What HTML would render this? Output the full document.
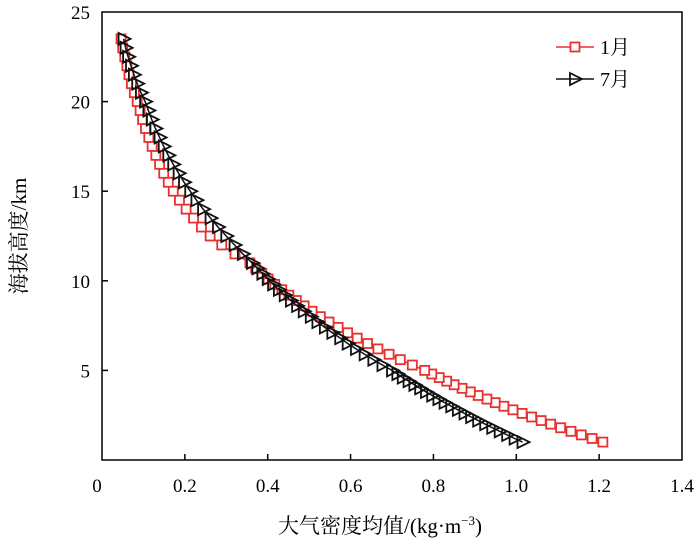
<!DOCTYPE html>
<html><head><meta charset="utf-8"><style>
html,body{margin:0;padding:0;background:#fff;}
svg{display:block;font-family:"Liberation Serif","Noto Serif CJK SC","Noto Sans CJK SC",serif;}
</style></head><body>
<svg id="chart" width="700" height="553" viewBox="0 0 700 553">
<g id="axes"></g>
<g id="series"></g>
<g id="legend"></g>
<text x="380" y="533" font-size="21" text-anchor="middle">大气密度均值/(kg·m<tspan font-size="13" dy="-8">−3</tspan><tspan dy="8">)</tspan></text>
<text transform="translate(26,236) rotate(-90)" font-size="21" text-anchor="middle">海拔高度/km</text>
</svg>
<script>
const heights=[1.0,1.2,1.4,1.6,1.8,2.0,2.2,2.4,2.6,2.8,3.0,3.2,3.4,3.6,3.8,4.0,4.2,4.4,4.6,4.8,5.0,
5.3,5.6,5.9,6.2,6.5,6.8,7.1,7.4,7.7,8.0,8.3,8.6,8.9,9.2,9.5,9.8,10.1,10.4,10.7,11.0,
11.5,12,12.5,13,13.5,14,14.5,15,15.5,16,16.5,17,17.5,18,18.5,19,19.5,20,20.5,21,21.5,22,22.5,23,23.5];
const janValues=[1.209,1.183,1.157,1.132,1.107,1.083,1.060,1.037,1.014,0.992,0.970,0.949,0.929,0.908,0.889,0.869,0.850,0.832,0.814,0.796,0.779,
0.749,0.720,0.693,0.666,0.641,0.616,0.593,0.570,0.548,0.527,0.507,0.488,0.469,0.451,0.434,0.417,0.401,0.386,0.371,0.357,
0.321,0.289,0.261,0.240,0.221,0.203,0.187,0.172,0.160,0.149,0.139,0.130,0.121,0.113,0.105,0.098,0.092,0.085,0.078,0.071,0.065,0.060,0.055,0.050,0.046];
const julValues=[1.015,0.996,0.978,0.960,0.942,0.925,0.908,0.891,0.875,0.859,0.843,0.827,0.812,0.797,0.782,0.768,0.754,0.740,0.726,0.713,0.700,
0.677,0.655,0.634,0.613,0.593,0.575,0.556,0.538,0.520,0.504,0.487,0.471,0.456,0.441,0.427,0.413,0.400,0.387,0.375,0.362,
0.340,0.320,0.300,0.280,0.262,0.244,0.228,0.213,0.198,0.185,0.172,0.160,0.149,0.139,0.129,0.120,0.112,0.104,0.094,0.085,0.077,0.070,0.063,0.057,0.052];
const xTicks=[0,0.2,0.4,0.6,0.8,1.0,1.2,1.4];
const xTickLabels=["0","0.2","0.4","0.6","0.8","1.0","1.2","1.4"];
const yTicks=[5,10,15,20,25];
const yTickLabels=["5","10","15","20","25"];
const seriesNames=["1月","7月"];

const L=102,R=682,T=12,B=460;
const xs=v=>L+v/1.4*(R-L);
const ys=v=>B-v/25*(B-T);
const NS="http://www.w3.org/2000/svg";
function mk(tag,attrs,parent){const e=document.createElementNS(NS,tag);for(const k in attrs)e.setAttribute(k,attrs[k]);parent.appendChild(e);return e;}
const axes=document.getElementById('axes');
const frame=mk('rect',{x:L,y:T,width:R-L,height:B-T,fill:'none',stroke:'#000','stroke-width':1.5},axes);


xTicks.forEach((t,i)=>{
  const x=xs(t);
  if(i>0&&i<xTicks.length-1){const tk=mk('line',{x1:x,x2:x,y1:B,y2:B-6,stroke:'#000','stroke-width':1.5},axes);
  
  }
  const tx=mk('text',{x:i===0?x-5:x,y:B+32,'font-size':19,'text-anchor':'middle'},axes);
  tx.textContent=xTickLabels[i];
  
  
});
yTicks.forEach((t,i)=>{
  const y=ys(t);
  if(t<25){const tk=mk('line',{x1:L,x2:L+6,y1:y,y2:y,stroke:'#000','stroke-width':1.5},axes);
  
  }
  const tx=mk('text',{x:L-12,y:y+7,'font-size':19,'text-anchor':'end'},axes);
  tx.textContent=yTickLabels[i];
  
  
});
const sg=document.getElementById('series');
function square(g,x,y,c){return mk('rect',{x:x-4.5,y:y-4.5,width:9,height:9,fill:'#fff',stroke:c,'stroke-width':1.8},g);}
function tri(g,x,y,c){return mk('path',{d:`M${x-5},${y-6} L${x+7},${y} L${x-5},${y+6} Z`,fill:'none',stroke:c,'stroke-width':1.8},g);}
function drawSeries(vals,color,marker,name){
  const g=mk('g',{},sg);
  
  
  const pts=vals.map((v,i)=>xs(v)+','+ys(heights[i])).join(' ');
  const pl=mk('polyline',{points:pts,fill:'none',stroke:color,'stroke-width':1.5},g);
  
  
  vals.forEach((v,i)=>{const m=marker(g,xs(v),ys(heights[i]),color);
    
    });
}
drawSeries(janValues,'#e8312f',square,'series-jan');
drawSeries(julValues,'#111',tri,'series-jul');
const lg=document.getElementById('legend');
[[0,'#e8312f',square],[1,'#111',tri]].forEach(([i,c,m])=>{
  const y=47+i*32;
  const ln=mk('line',{x1:556,x2:594,y1:y,y2:y,stroke:c,'stroke-width':1.5},lg);
  
  
  const mm=m(lg,575,y,c);
  
  
  const t=mk('text',{x:600,y:y+7,'font-size':20},lg);
  t.textContent=seriesNames[i];
  
  
});
</script>
</body></html>
